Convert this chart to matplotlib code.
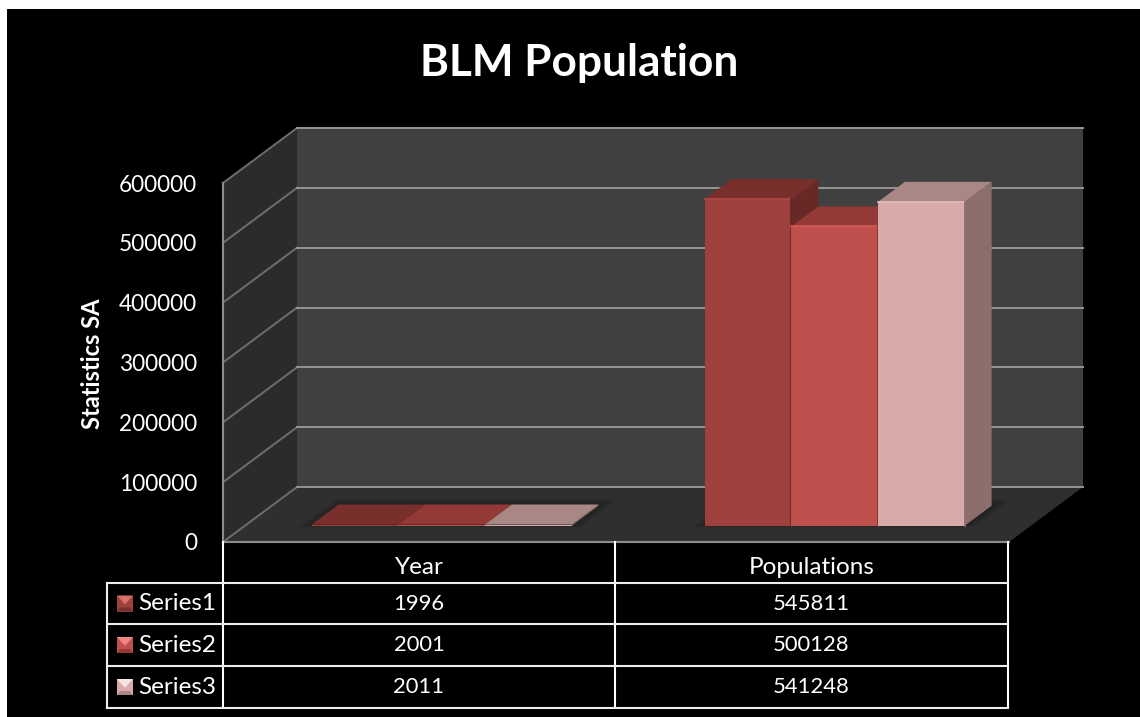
import matplotlib
matplotlib.use("Agg")
import matplotlib.pyplot as plt
from matplotlib.patches import Polygon, Rectangle

plt.rcParams["font.family"] = ["Lato", "DejaVu Sans"]

TITLE = "BLM Population"
Y_LABEL = "Statistics SA"
CATEGORIES = ["Year", "Populations"]
SERIES_NAMES = ["Series1", "Series2", "Series3"]
SERIES1 = [1996, 545811]
SERIES2 = [2001, 500128]
SERIES3 = [2011, 541248]
Y_TICKS = [0, 100000, 200000, 300000, 400000, 500000, 600000]

W, H = 1140, 717
# colours per series: front, top, side, top-edge highlight, key highlight
FRONT = ["#9e403d", "#c0504d", "#d9aaaa"]
TOP = ["#792f2c", "#933a37", "#a98785"]
SIDE = ["#672826", "#7f3230", "#8c6f6d"]
EDGE = ["#ad4a46", "#d05a56", "#e8bebe"]
KEY_HI = ["#d9706c", "#f08682", "#f6e4e4"]

# 3D-ish box: depth 0 is the front of the floor, depth 1 the back wall
DEPTH_X = 74 / 393          # category units
DEPTH_Y = 55 * 600000 / 359  # value units
BAR_W = 0.2205
BAR_START = 0.17
D0, D1 = 0.296, 0.66


def proj(x, v, d):
    return (x + d * DEPTH_X, v + d * DEPTH_Y)


def poly(ax, pts, **kw):
    ax.add_patch(Polygon(pts, closed=True, clip_on=False, **kw))


fig = plt.figure(figsize=(W / 100, H / 100), dpi=100, facecolor="white")

# pixel overlay for the black slide background and the data table
bg = fig.add_axes([0, 0, 1, 1], zorder=0)
bg.set_xlim(0, W)
bg.set_ylim(H, 0)
bg.axis("off")
bg.add_patch(Rectangle((7, 9), W, H, fc="black", ec="none"))

ax = fig.add_axes([223 / W, (H - 542) / H, 786 / W, 359 / H], zorder=1)
ax.set_xlim(0, 2)
ax.set_ylim(0, 600000)
ax.patch.set_visible(False)
for s in ax.spines.values():
    s.set_visible(False)
ax.set_xticks([])
ax.set_yticks(Y_TICKS)
ax.set_yticklabels([str(t) for t in Y_TICKS])
ax.tick_params(axis="y", length=0, pad=18.5, labelsize=16.3, labelcolor="white")
for lab in ax.get_yticklabels():
    lab.set_y(lab.get_position()[1])

# walls and floor
poly(ax, [proj(0, 0, 1), proj(2, 0, 1), proj(2, 600000, 1), proj(0, 600000, 1)],
     fc="#404040", ec="none", zorder=1)
poly(ax, [proj(0, 0, 0), proj(0, 0, 1), proj(0, 600000, 1), proj(0, 600000, 0)],
     fc="#2b2b2b", ec="none", zorder=1)
poly(ax, [proj(0, 0, 0), proj(2, 0, 0), proj(2, 0, 1), proj(0, 0, 1)],
     fc="#2f2f2f", ec="none", zorder=1)

for t in Y_TICKS:
    xs, ys = zip(proj(0, t, 0), proj(0, t, 1))
    ax.plot(xs, ys, color="#6e6e6e", lw=1.4, clip_on=False, zorder=2)
    xs, ys = zip(proj(0, t, 1), proj(2, t, 1))
    ax.plot(xs, ys, color="#959595", lw=1.4, clip_on=False, zorder=2)
ax.plot(*zip(proj(0, 0, 0), proj(2, 0, 0)), color="#8c8c8c", lw=1.5,
        clip_on=False, zorder=2)
ax.plot(*zip(proj(0, 0, 0), proj(0, 600000, 0)), color="#8c8c8c", lw=1.5,
        clip_on=False, zorder=2)

series = [SERIES1, SERIES2, SERIES3]

# soft floor shadows under each group
for c in range(len(CATEGORIES)):
    x0 = c + BAR_START
    x1 = x0 + 3 * BAR_W
    for k in range(1, 6):
        gx = 0.006 * k
        gd = 0.025 * k
        poly(ax, [proj(x0 - gx, 0, D0 - gd * 0.2), proj(x1 + gx, 0, D0 - gd * 0.2),
                  proj(x1 + gx, 0, D1 + gd), proj(x0 - gx, 0, D1 + gd)],
             fc="black", alpha=0.05, ec="none", zorder=3)

# bars: top, side, then front face, left to right
z = 4
for c in range(len(CATEGORIES)):
    for i, vals in enumerate(series):
        v = vals[c]
        x0 = c + BAR_START + i * BAR_W
        x1 = x0 + BAR_W
        poly(ax, [proj(x1, 0, D0), proj(x1, 0, D1), proj(x1, v, D1), proj(x1, v, D0)],
             fc=SIDE[i], ec="none", zorder=z)
        poly(ax, [proj(x0, v, D0), proj(x1, v, D0), proj(x1, v, D1), proj(x0, v, D1)],
             fc=TOP[i], ec="none", zorder=z)
        poly(ax, [proj(x0, 0, D0), proj(x1, 0, D0), proj(x1, v, D0), proj(x0, v, D0)],
             fc=FRONT[i], ec="none", zorder=z + 0.1)
        if v > 10000:
            # bevel: bright top edge, darker right edge
            ax.plot(*zip(proj(x0, v, D0), proj(x1, v, D0)), color=EDGE[i], lw=1.2,
                    clip_on=False, zorder=z + 0.2)
            ax.plot(*zip(proj(x1, 0, D0), proj(x1, v, D0)), color=SIDE[i], lw=1.3,
                    clip_on=False, zorder=z + 0.2)
        z += 1

fig.text(579 / W, 1 - 63 / H, TITLE, color="white", fontsize=31.8, fontweight="bold",
         ha="center", va="center", zorder=5)
fig.text(92 / W, 1 - 364 / H, Y_LABEL, color="white", fontsize=17, fontweight="bold",
         rotation=90, ha="center", va="center", zorder=5)

# data table
table = fig.add_axes([0, 0, 1, 1], zorder=2)
table.set_xlim(0, W)
table.set_ylim(H, 0)
table.axis("off")
col_x = [223, 615, 1008]
row_y = [542, 583, 624, 666, 708]
for x in col_x:
    table.plot([x, x], [row_y[0], row_y[-1]], color="white", lw=1.5)
for y in row_y[1:]:
    table.plot([107, col_x[-1]], [y, y], color="#eeeeee", lw=1.5)
table.plot([107, 107], [row_y[1], row_y[-1]], color="#eeeeee", lw=1.5)

for j, name in enumerate(CATEGORIES):
    table.text((col_x[j] + col_x[j + 1]) / 2, (row_y[0] + row_y[1]) / 2 + 5, name,
               color="white", fontsize=17.5, ha="center", va="center")
for i, vals in enumerate(series):
    ymid = (row_y[i + 1] + row_y[i + 2]) / 2
    # legend key with a small bevel
    kx, ky, ks = 117, ymid - 8, 16
    table.add_patch(Rectangle((kx, ky), ks, ks, fc=FRONT[i], ec="none"))
    table.add_patch(Polygon([(kx, ky), (kx + ks, ky), (kx + ks / 2, ky + ks * 0.55)],
                            fc=KEY_HI[i], ec="none"))
    table.add_patch(Polygon([(kx, ky + ks), (kx + ks, ky + ks), (kx + ks - 3, ky + ks - 4),
                             (kx + 3, ky + ks - 4)], fc=TOP[i], ec="none"))
    table.text(138, ymid, SERIES_NAMES[i], color="white", fontsize=17.5,
               ha="left", va="center")
    for j, v in enumerate(vals):
        table.text((col_x[j] + col_x[j + 1]) / 2, ymid, str(v), color="white",
                   fontsize=15.8, ha="center", va="center")

fig.savefig("out.png", dpi=100, facecolor="white")
